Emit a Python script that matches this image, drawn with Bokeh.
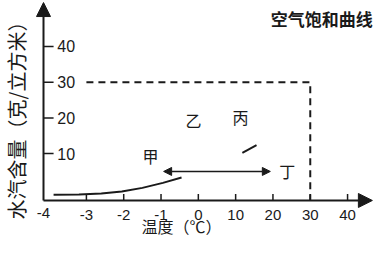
from bokeh.plotting import figure
from bokeh.models import Arrow, NormalHead, Range1d
from bokeh.core.properties import value
from bokeh.embed import file_html
from bokeh.resources import INLINE

# ---- data ----
x_tick_pos = [1, 2, 3, 4, 5, 6, 7, 8]
x_tick_labels = ["-3", "-2", "-1", "0", "10", "20", "30", "40"]
origin_label = "-4"
y_ticks = [10, 20, 30, 40]
y_tick_labels = ["10", "20", "30", "40"]

# visible part of the saturation curve (x = tick index, y = g/m3)
curve_x = [0.12, 0.8, 1.4, 1.95, 2.5, 3.05, 3.55]
curve_y = [-1.5, -1.45, -1.2, -0.6, 0.4, 1.8, 3.3]
curve2_x = [5.18, 5.56]
curve2_y = [10.2, 12.4]

sat_value = 30          # saturation level marked by dashed line
sat_x = 7               # position of "30" on x axis
sat_start = 1

arrow_y = 5
arrow_x0, arrow_x1 = 3.07, 5.93

point_names = ["甲", "乙", "丙", "丁"]
point_x = [2.72, 3.87, 5.13, 6.38]
point_y = [9.4, 19.4, 20.2, 5.0]

title_text = "空气饱和曲线"
x_title = "温度（℃）"
y_title = "水汽含量（克/立方米）"

# ---- figure ----
X0, X1 = -1.3026, 8.695
Y0, Y1 = -13.78, 52.87
axis_x = -0.15
axis_y = -3.13

p = figure(width=373, height=238, x_range=Range1d(X0, X1), y_range=Range1d(Y0, Y1),
           output_backend="svg", toolbar_location=None, min_border=0,
           x_axis_type=None, y_axis_type=None)
p.grid.visible = False
p.outline_line_color = None
p.background_fill_color = "white"

ink = "#1a1a1a"
cjk = value("Noto Sans CJK SC")
lat = value("Liberation Sans")

# axes with arrows
p.add_layout(Arrow(x_start=axis_x, y_start=axis_y, x_end=axis_x, y_end=52.3,
                   line_width=2, line_color=ink,
                   end=NormalHead(size=14, fill_color=ink, line_color=ink)))
p.add_layout(Arrow(x_start=axis_x, y_start=axis_y, x_end=X1 - 0.03, y_end=axis_y,
                   line_width=2, line_color=ink,
                   end=NormalHead(size=14, fill_color=ink, line_color=ink)))

# x ticks (pointing up, inside)
p.segment(x0=x_tick_pos, y0=[axis_y] * len(x_tick_pos), x1=x_tick_pos,
          y1=[axis_y + 1.8] * len(x_tick_pos), line_color=ink, line_width=1.5)
p.text(x=x_tick_pos, y=[-7.06] * len(x_tick_pos), text=x_tick_labels,
       text_font=lat, text_font_size="15px", text_color=ink,
       text_align="center", text_baseline="middle")
p.text(x=[axis_x], y=[-6.5], text=[origin_label], text_font=lat, text_font_size="15px",
       text_color=ink, text_align="center", text_baseline="middle")

# y ticks (pointing right, labels to the right)
p.segment(x0=[axis_x] * len(y_ticks), y0=y_ticks, x1=[axis_x + 0.27] * len(y_ticks),
          y1=y_ticks, line_color=ink, line_width=1.5)
p.text(x=[0.22] * len(y_ticks), y=y_ticks, text=y_tick_labels, text_font=lat,
       text_font_size="16px", text_color=ink, text_align="left", text_baseline="middle")

# dashed saturation marks
p.line([sat_start, sat_x, sat_x], [sat_value, sat_value, axis_y], line_dash="7 5",
       line_width=2, line_color=ink)

# curve
p.line(curve_x, curve_y, line_width=2, line_color=ink)
p.line(curve2_x, curve2_y, line_width=2, line_color=ink)

# double arrow
p.add_layout(Arrow(x_start=arrow_x0, y_start=arrow_y, x_end=arrow_x1, y_end=arrow_y,
                   line_width=1.5, line_color=ink,
                   start=NormalHead(size=8, fill_color=ink, line_color=ink),
                   end=NormalHead(size=8, fill_color=ink, line_color=ink)))

# point labels
p.text(x=point_x, y=point_y, text=point_names, text_font=cjk, text_font_size="16px",
       text_color=ink, text_align="center", text_baseline="middle")

# titles
p.text(x=[X1 - 0.02], y=[47.83], text=[title_text], text_font=cjk, text_font_size="17px",
       text_color=ink, text_align="right", text_baseline="middle", text_font_style="bold")
p.text(x=[3.55], y=[-13.5], text=[x_title], text_font=cjk, text_font_size="16px",
       text_color=ink, text_align="center", text_baseline="bottom")
p.text(x=[-0.874], y=[20.67], text=[y_title], text_font=cjk, text_font_size="20px",
       text_color=ink, text_align="center", text_baseline="middle", angle=1.5708)

open("out.html", "w").write(file_html(p, INLINE))
